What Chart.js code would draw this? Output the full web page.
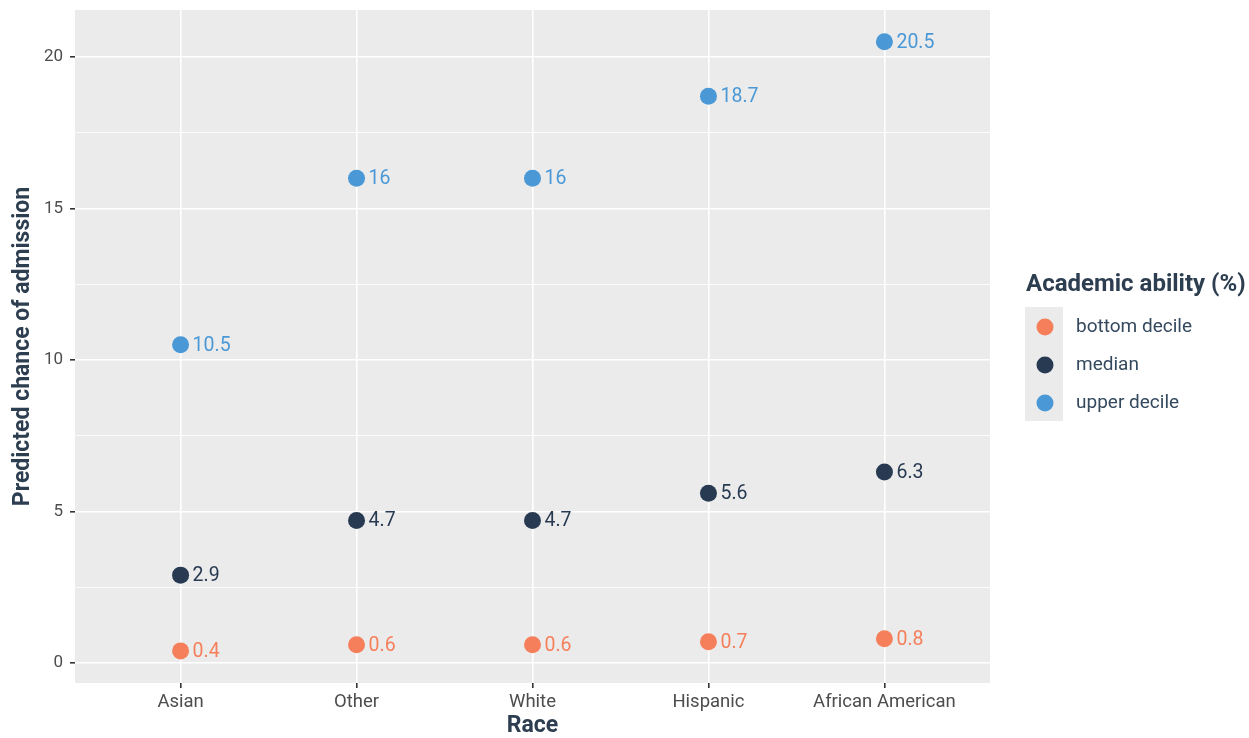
<!DOCTYPE html>
<html><head><meta charset="utf-8">
<script src="https://cdn.jsdelivr.net/npm/chart.js@4/dist/chart.umd.min.js"></script>
<style>html,body{margin:0;padding:0;background:#fff}#wrap{width:1249px;height:738px}</style>
</head><body><div id="wrap"><canvas id="c" width="1249" height="738"></canvas></div>
<script>
const categories = ["Asian", "Other", "White", "Hispanic", "African American"];
const bottomDecile = [0.4, 0.6, 0.6, 0.7, 0.8];
const median = [2.9, 4.7, 4.7, 5.6, 6.3];
const upperDecile = [10.5, 16, 16, 18.7, 20.5];
const seriesNames = ["bottom decile", "median", "upper decile"];
const seriesColors = ["#F67F5B", "#283A52", "#4A98D6"];
const yTicks = [0, 2.5, 5, 7.5, 10, 12.5, 15, 17.5, 20];

const FONT = "Roboto, 'Liberation Sans', sans-serif";
const seriesValues = [bottomDecile, median, upperDecile];
const datasets = seriesValues.map((vals, s) => ({
  label: seriesNames[s],
  data: vals.map((v, i) => ({x: i + 1, y: v})),
  backgroundColor: seriesColors[s],
  borderColor: seriesColors[s],
  pointRadius: 8.5,
  pointHoverRadius: 8.5,
  borderWidth: 0
}));

const panelBg = {
  id: 'panelBg',
  beforeDraw(chart) {
    const {ctx, chartArea: a} = chart;
    ctx.save();
    ctx.fillStyle = '#EBEBEB';
    ctx.fillRect(a.left, a.top, a.right - a.left, a.bottom - a.top);
    ctx.restore();
  }
};

const labelsPlugin = {
  id: 'pointLabels',
  afterDatasetsDraw(chart) {
    const ctx = chart.ctx;
    ctx.save();
    ctx.font = "19.5px " + FONT;
    ctx.textAlign = 'left';
    ctx.textBaseline = 'middle';
    chart.data.datasets.forEach((ds, di) => {
      const meta = chart.getDatasetMeta(di);
      meta.data.forEach((pt, i) => {
        ctx.fillStyle = ds.backgroundColor;
        ctx.fillText(String(ds.data[i].y), pt.x + 12, pt.y + 1);
      });
    });
    ctx.restore();
  }
};

const legendPlugin = {
  id: 'customLegend',
  afterDraw(chart) {
    const ctx = chart.ctx;
    ctx.save();
    ctx.font = "bold 24px " + FONT;
    ctx.fillStyle = '#2C3E50';
    ctx.textAlign = 'left';
    ctx.textBaseline = 'middle';
    ctx.fillText("Academic ability (%)", 1026, 285);
    const n = chart.data.datasets.length;
    ctx.fillStyle = '#EBEBEB';
    ctx.fillRect(1025, 307, 38, 38 * n);
    chart.data.datasets.forEach((ds, i) => {
      const cy = 327 + 38 * i;
      ctx.beginPath();
      ctx.arc(1045, cy, 8.5, 0, Math.PI * 2);
      ctx.fillStyle = ds.backgroundColor;
      ctx.fill();
      ctx.font = "19px " + FONT;
      ctx.fillStyle = '#34495E';
      ctx.fillText(ds.label, 1076, cy);
    });
    ctx.restore();
  }
};

new Chart(document.getElementById('c'), {
  type: 'scatter',
  data: {datasets},
  plugins: [panelBg, labelsPlugin, legendPlugin],
  options: {
    responsive: false,
    animation: false,
    layout: {padding: {top: 10, right: 259, left: 0, bottom: 0}},
    plugins: {legend: {display: false}, tooltip: {enabled: false}},
    scales: {
      x: {
        type: 'linear', min: 0.4, max: 5.6,
        afterBuildTicks: ax => { ax.ticks = categories.map((c, i) => ({value: i + 1})); },
        afterFit: ax => { ax.height = 55; ax.paddingLeft = 0; ax.paddingRight = 0; },
        border: {display: false},
        grid: {color: '#FFFFFF', lineWidth: 1.6, tickColor: '#333333', tickLength: 5, tickWidth: 1.6},
        ticks: {
          callback: v => categories[Math.round(v) - 1],
          font: {family: FONT, size: 18.5}, color: '#4D4D4D', padding: 3, maxRotation: 0, autoSkip: false
        },
        title: {display: true, text: 'Race', font: {family: FONT, size: 23, weight: 'bold', lineHeight: 1.0}, color: '#2C3E50', padding: {top: 0, bottom: 0}}
      },
      y: {
        type: 'linear', min: -0.66, max: 21.55,
        afterBuildTicks: ax => { ax.ticks = yTicks.map(v => ({value: v})); },
        afterFit: ax => { ax.width = 75; ax.paddingTop = 0; ax.paddingBottom = 0; },
        border: {display: false},
        grid: {
          color: '#FFFFFF',
          lineWidth: c => (c.tick && c.tick.value % 5 === 0) ? 1.6 : 0.8,
          tickColor: c => (c.tick && c.tick.value % 5 === 0) ? '#333333' : 'rgba(0,0,0,0)',
          tickLength: 5, tickWidth: 1.6
        },
        ticks: {
          callback: v => (v % 5 === 0 ? String(v) : ''),
          font: {family: FONT, size: 17}, color: '#4D4D4D', padding: 7, autoSkip: false
        },
        title: {display: true, text: 'Predicted chance of admission', font: {family: FONT, size: 23, weight: 'bold'}, color: '#2C3E50', padding: {top: 9, bottom: 0}}
      }
    }
  }
});
</script>
</body></html>
